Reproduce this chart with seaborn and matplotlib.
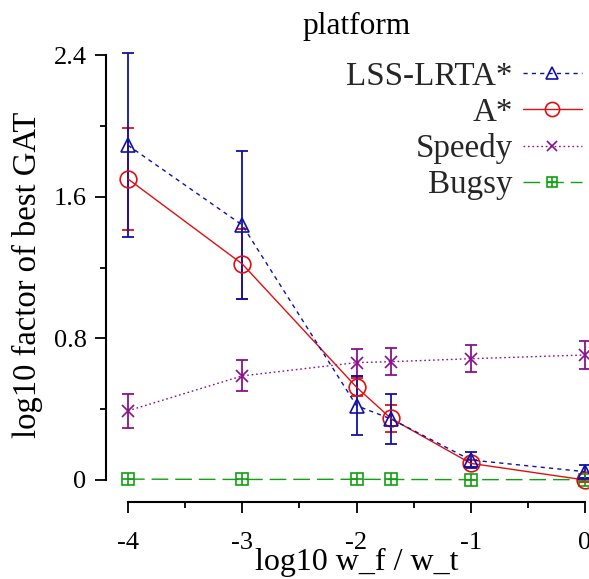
import numpy as np
import pandas as pd
import matplotlib
matplotlib.use("Agg")
import matplotlib.pyplot as plt
import seaborn as sns
from matplotlib.lines import Line2D
from matplotlib.legend_handler import HandlerTuple

# ---- data ----
x_vals = [-4, -3, -2, -1.699, -1, 0]
lss_vals = [1.89, 1.44, 0.42, 0.345, 0.113, 0.047]
lss_err = [0.52, 0.42, 0.165, 0.14, 0.045, 0.035]
astar_vals = [1.70, 1.22, 0.524, 0.348, 0.094, 0.0]
astar_err = [0.29, 0.20, 0.05, 0.075, 0.02, 0.01]
speedy_vals = [0.391, 0.588, 0.663, 0.668, 0.685, 0.706]
speedy_err = [0.095, 0.088, 0.075, 0.075, 0.075, 0.078]
bugsy_vals = [0.005, 0.003, 0.004, 0.003, 0.002, 0.002]
bugsy_err = [0.0, 0.0, 0.0, 0.0, 0.0, 0.0]
series_names = ["LSS-LRTA*", "A*", "Speedy", "Bugsy"]
x_ticks = [-4, -3, -2, -1, 0]
y_ticks = [0, 0.8, 1.6, 2.4]

sns.set_theme(style="ticks")
plt.rcParams['font.family'] = ['Liberation Serif', 'DejaVu Serif']

fig = plt.figure(figsize=(5.89, 5.79), dpi=100)
ax = fig.add_axes([128/589, 1-480/579, (585-128)/589, (480-55)/579])

rows = []
for name, vals in zip(series_names, [lss_vals, astar_vals, speedy_vals, bugsy_vals]):
    for xv, yv in zip(x_vals, vals):
        rows.append({"x": xv, "y": yv, "series": name})
df = pd.DataFrame(rows)

styles = {
    "LSS-LRTA*": dict(color="#1010a8", marker="^", ls=(0, (3.0, 3.0)), ms=10, err=lss_err),
    "A*": dict(color="#e01010", marker="o", ls="-", ms=12, err=astar_err),
    "Speedy": dict(color="#8b108b", marker="x", ls=(0, (1.2, 2.0)), ms=9, err=speedy_err),
    "Bugsy": dict(color="#10a010", marker="s", ls=(0, (12, 5)), ms=9, err=bugsy_err),
}

order = ["Bugsy", "Speedy", "A*", "LSS-LRTA*"]
for name in order:
    st = styles[name]
    sub = df[df.series == name]
    sns.lineplot(data=sub, x="x", y="y", ax=ax, color=st["color"], linestyle=st["ls"],
                 linewidth=1.0, marker=st["marker"], markersize=st["ms"],
                 markerfacecolor="none", markeredgecolor=st["color"], markeredgewidth=1.2,
                 clip_on=False, legend=False, zorder=3)
    if name == "Bugsy":
        ax.plot(sub["x"], sub["y"], ls="none", marker="+", ms=9, mew=1.2,
                color=st["color"], clip_on=False, zorder=3)
    if max(st["err"]) > 0:
        eb = ax.errorbar(sub["x"], sub["y"], yerr=st["err"], fmt="none", ecolor=st["color"],
                         elinewidth=1.3, capsize=4.5, capthick=1.3, zorder=2)
        for c in eb.get_children():
            c.set_clip_on(False)

ax.set_xlim(-4, 0)
ax.set_ylim(0, 2.4)
ax.set_xticks(x_ticks)
ax.set_xticklabels([str(t) for t in x_ticks])
ax.set_xticks([-3.5, -2.5, -1.5, -0.5], minor=True)
ax.set_yticks(y_ticks)
ax.set_yticklabels(["0", "0.8", "1.6", "2.4"])
ax.set_yticks([0.4, 1.2, 2.0], minor=True)

for s in ["top", "right"]:
    ax.spines[s].set_visible(False)
off = 22 * 72 / 100
ax.spines["left"].set_position(("outward", off))
ax.spines["bottom"].set_position(("outward", off))
for s in ["left", "bottom"]:
    ax.spines[s].set_linewidth(1.5)
    ax.spines[s].set_color("black")

ax.tick_params(axis="both", which="major", length=8, width=1.3, color="black",
               labelsize=19, labelcolor="black")
ax.tick_params(axis="y", which="major", pad=6)
ax.tick_params(axis="x", which="major", pad=13.5)
ax.tick_params(axis="both", which="minor", length=4.5, width=1.3, color="black")

ax.set_xlabel("log10 w_f / w_t", fontsize=23, labelpad=-4.5, color="black")
ax.set_ylabel("log10 factor of best GAT", fontsize=23.5, color="black")
ax.yaxis.set_label_coords(-0.187, 0.482)
ax.set_title("platform", fontsize=22.6, pad=15, color="black")

handles = []
for name in series_names:
    st = styles[name]
    h = Line2D([], [], color=st["color"], linestyle=st["ls"], linewidth=1.0, marker=st["marker"],
               markersize=st["ms"] * 0.85, markerfacecolor="none", markeredgecolor=st["color"],
               markeredgewidth=1.2)
    if name == "Bugsy":
        h2 = Line2D([], [], ls="none", marker="+", markersize=st["ms"] * 0.85,
                    color=st["color"], markeredgewidth=1.2)
        h = (h, h2)
    handles.append(h)
leg = ax.legend(handles, series_names, loc="upper right", bbox_to_anchor=(1.022, 1.0165),
                frameon=False, markerfirst=False, fontsize=23.8, handlelength=1.78,
                handletextpad=0.31, labelspacing=0.165, borderaxespad=0.0,
                handler_map={tuple: HandlerTuple(ndivide=1, pad=0)})

fig.savefig("out.png", dpi=100)
